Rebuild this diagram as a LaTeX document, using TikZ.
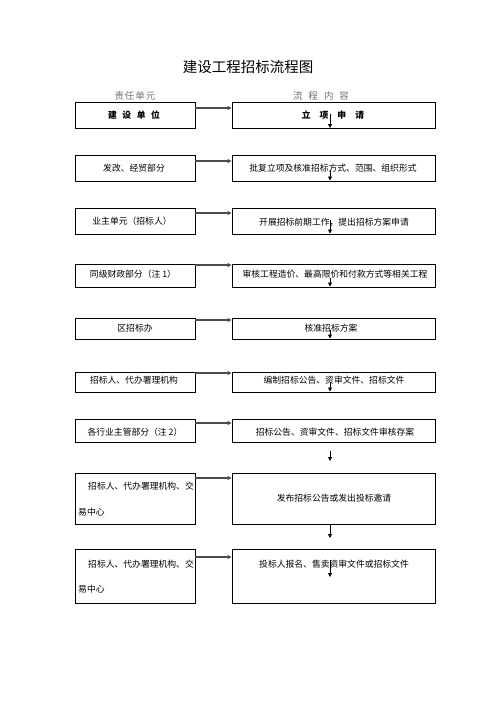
\documentclass[tikz,border=0pt]{standalone}
\usepackage{fontspec}
\setmainfont{Noto Sans CJK SC}
\usetikzlibrary{arrows.meta}
\begin{document}
\begin{tikzpicture}[x=1pt,y=-1pt,
  box/.style={draw=black,line width=0.9pt,rectangle,inner sep=0pt},
  lbox/.style={box,minimum width=120pt},
  rbox/.style={box,minimum width=203pt},
  txt/.style={inner sep=0pt,font=\fontsize{8.8pt}{10pt}\selectfont},
  hdr/.style={inner sep=0pt,text=black!55,font=\fontsize{9.5pt}{11pt}\selectfont},
  harrow/.style={draw=black!70,line width=1.1pt,-{Triangle[length=4pt,width=4pt]}},
  varrow/.style={draw=black,line width=0.9pt,-{Triangle[length=4pt,width=4pt]}}]
\useasboundingbox (0,0) rectangle (496,702);
\fill[white] (0,0) rectangle (496,702);
% title and headers
\node[inner sep=0pt,font=\fontsize{14.5pt}{16pt}\selectfont] (title) at (248,67) {建设工程招标流程图};
\node[hdr] (h1) at (135,96) {责\hspace{1pt}任\hspace{1pt}单\hspace{1pt}元};
\node[hdr] (h2) at (321,96) {流\hspace{6pt}程\hspace{6pt}内\hspace{6pt}容};
% left boxes
\node[lbox,minimum height=26pt] (L1) at (135,115) {};
\node[lbox,minimum height=26pt] (L2) at (135,168) {};
\node[lbox,minimum height=26pt] (L3) at (135,221) {};
\node[lbox,minimum height=23pt] (L4) at (135,275.5) {};
\node[lbox,minimum height=21pt] (L5) at (135,328.5) {};
\node[lbox,minimum height=20pt] (L6) at (135,382) {};
\node[lbox,minimum height=23pt] (L7) at (135,430.5) {};
\node[lbox,minimum height=51pt] (L8) at (135,498.5) {};
\node[lbox,minimum height=54pt] (L9) at (135,576) {};
% right boxes
\node[rbox,minimum height=26pt] (R1) at (333.5,115) {};
\node[rbox,minimum height=26pt] (R2) at (333.5,168) {};
\node[rbox,minimum height=26pt] (R3) at (333.5,221) {};
\node[rbox,minimum height=23pt] (R4) at (333.5,275.5) {};
\node[rbox,minimum height=21pt] (R5) at (333.5,328.5) {};
\node[rbox,minimum height=20pt] (R6) at (333.5,382) {};
\node[rbox,minimum height=23pt] (R7) at (333.5,430.5) {};
\node[rbox,minimum height=51pt] (R8) at (333.5,498.5) {};
\node[rbox,minimum height=54pt] (R9) at (333.5,576) {};
% left texts
\node[txt,font=\fontsize{8.8pt}{10pt}\selectfont\bfseries] (tl1) at (134,115) {建\hspace{5.5pt}设\hspace{5.5pt}单\hspace{5.5pt}位};
\node[txt] (tl2) at (134,168) {发改、经贸部分};
\node[txt] (tl3) at (132,221) {业主单元（招标人）};
\node[txt] (tl4) at (133,274) {同级财政部分（注 1）};
\node[txt] (tl5) at (135,328) {区招标办};
\node[txt] (tl6) at (134,380) {招标人、代办署理机构};
\node[txt] (tl7) at (135,432) {各行业主管部分（注 2）};
\node[txt,anchor=west] (tl8a) at (88,486) {招标人、代办署理机构、交};
\node[txt,anchor=west] (tl8b) at (78,512) {易中心};
\node[txt,anchor=west] (tl9a) at (88,564) {招标人、代办署理机构、交};
\node[txt,anchor=west] (tl9b) at (78,589) {易中心};
% right texts
\node[txt,font=\fontsize{8.8pt}{10pt}\selectfont\bfseries] (tr1) at (333,115) {立\hspace{9pt}项\hspace{9pt}申\hspace{9pt}请};
\node[txt] (tr2) at (333,168) {批复立项及核准招标方式、范围、组织形式};
\node[txt] (tr3) at (334,222) {开展招标前期工作，提出招标方案申请};
\node[txt] (tr4) at (335,274) {审核工程造价、最高限价和付款方式等相关工程};
\node[txt] (tr5) at (331,328) {核准招标方案};
\node[txt] (tr6) at (334,380) {编制招标公告、资审文件、招标文件};
\node[txt] (tr7) at (335,432) {招标公告、资审文件、招标文件审核存案};
\node[txt] (tr8) at (334,498) {发布招标公告或发出投标邀请};
\node[txt] (tr9) at (334,564) {投标人报名、售卖资审文件或招标文件};
% horizontal arrows
\draw[harrow] (L1.east |- 0,108) -- (R1.west |- 0,108);
\draw[harrow] (L2.east |- 0,161) -- (R2.west |- 0,161);
\draw[harrow] (L3.east |- 0,213) -- (R3.west |- 0,213);
\draw[harrow] (L4.east |- 0,265) -- (R4.west |- 0,265);
\draw[harrow] (L5.east |- 0,320) -- (R5.west |- 0,320);
\draw[harrow] (L6.east |- 0,373) -- (R6.west |- 0,373);
\draw[harrow] (L7.east |- 0,423) -- (R7.west |- 0,423);
\draw[harrow] (L8.east |- 0,478) -- (R8.west |- 0,478);
\draw[harrow] (L9.east |- 0,557) -- (R9.west |- 0,557);
% vertical arrows
\coordinate (v1a) at (330,114); \coordinate (v1b) at (330,128);
\coordinate (v2a) at (330,170); \coordinate (v2b) at (330,180.5);
\coordinate (v3a) at (330,220); \coordinate (v3b) at (330,233.5);
\coordinate (v4a) at (330,278); \coordinate (v4b) at (330,286.5);
\coordinate (v5a) at (330,330); \coordinate (v5b) at (330,338.5);
\coordinate (v6a) at (330,382); \coordinate (v6b) at (330,391.5);
\coordinate (v7a) at (330,451); \coordinate (v7b) at (330,461);
\coordinate (v8a) at (330,525); \coordinate (v8b) at (330,538);
\coordinate (v9a) at (330,560); \coordinate (v9b) at (330,577);
\foreach \i in {1,...,9} \draw[varrow] (v\i a) -- (v\i b);
\end{tikzpicture}
\end{document}
